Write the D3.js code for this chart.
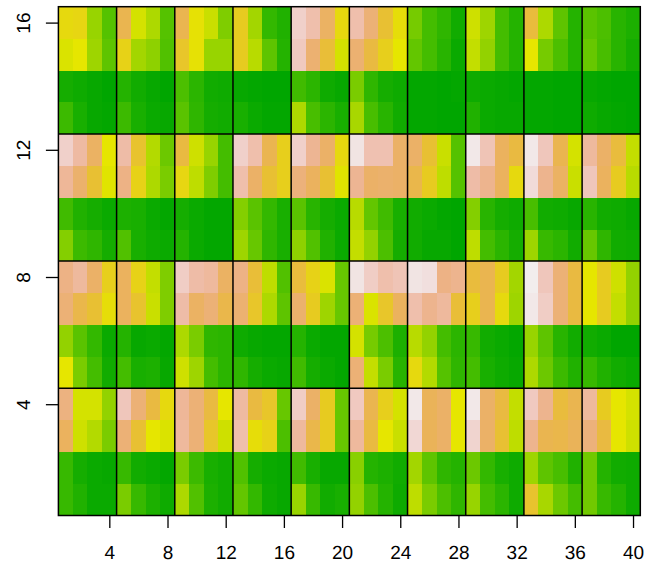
<!DOCTYPE html>
<html>
<head>
<meta charset="utf-8">
<style>
  body { margin: 0; background: #fff; }
  text { font-family: "Liberation Sans", Arial, sans-serif; text-rendering: geometricPrecision; }
</style>
<script src="https://cdn.jsdelivr.net/npm/d3@7"></script>
</head>
<body>
<script>
// palette position (0-100) of each cell, column 1 to 40
const row16 = [53,54,36,22, 67,47,40,22, 67,51,45,31, 57,38,14,9, 92,86,71,53, 86,75,61,52, 29,18,13,5, 46,37,18,10, 63,40,24,10, 23,20,11,8];
const row15 = [48,50,37,24, 55,38,34,21, 59,51,36,36, 57,42,24,10, 90,74,62,47, 74,64,56,50, 25,18,11,3, 44,35,18,10, 50,29,20,10, 26,19,11,6];
const row14 = [6,4,2,0, 10,5,2,0, 20,12,5,4, 2,1,0,0, 17,12,4,2, 30,13,6,4, 1,1,0,1, 4,3,2,1, 1,1,0,0, 2,1,0,0];
const row13 = [16,7,2,1, 16,7,3,2, 23,13,6,5, 7,3,1,1, 40,19,12,7, 39,19,11,5, 1,1,0,0, 9,3,2,2, 1,1,0,0, 4,2,1,0];
const row12 = [92,84,71,50, 85,60,41,27, 64,46,36,18, 92,86,67,56, 92,81,72,53, 97,87,87,72, 72,61,45,22, 98,88,70,64, 98,89,67,47, 83,72,63,44];
const row11 = [82,73,61,49, 78,55,40,30, 54,43,31,18, 86,72,61,56, 76,70,61,49, 81,72,73,72, 66,57,43,22, 85,80,70,53, 95,80,71,45, 89,70,57,42];
const row10 = [17,9,6,3, 8,7,3,1, 6,3,1,1, 32,23,14,7, 23,11,6,3, 42,25,17,7, 5,3,1,0, 32,11,6,4, 19,5,4,2, 11,5,4,2];
const row9 = [32,16,13,6, 21,7,4,3, 10,3,1,1, 37,26,13,7, 34,21,9,3, 44,35,20,6, 5,2,2,0, 43,18,12,6, 37,15,12,5, 26,13,5,4];
const row8 = [78,83,72,56, 70,55,44,31, 91,85,83,71, 78,62,43,21, 63,55,48,26, 97,91,86,88, 97,96,78,80, 63,67,57,38, 99,89,75,64, 50,57,46,35];
const row7 = [75,66,61,52, 70,60,45,31, 85,71,75,66, 74,59,40,24, 73,57,37,26, 75,48,59,70, 86,80,83,62, 56,67,53,37, 98,91,75,64, 50,57,44,35];
const row6 = [35,23,14,3, 10,2,3,1, 40,30,13,12, 4,2,1,1, 10,3,1,1, 47,29,20,8, 42,35,18,12, 15,5,3,1, 36,24,11,5, 5,3,0,0];
const row5 = [50,30,18,5, 18,7,8,2, 46,37,18,12, 13,6,3,2, 17,6,3,1, 75,44,30,11, 53,41,22,13, 18,7,4,2, 40,27,16,9, 15,9,5,3];
const row4 = [77,47,47,35, 89,75,64,53, 82,75,64,50, 84,64,59,26, 91,72,57,26, 90,67,56,47, 98,69,72,50, 98,72,64,44, 90,80,63,67, 83,57,50,47];
const row3 = [70,46,41,30, 75,61,50,48, 83,75,59,46, 86,52,55,20, 83,66,57,26, 83,64,50,45, 94,69,72,50, 93,72,61,43, 80,67,66,69, 76,64,50,46];
const row2 = [15,6,3,2, 15,5,3,1, 30,16,7,5, 21,6,3,2, 17,7,2,2, 33,10,8,5, 38,24,13,10, 27,14,7,4, 37,24,19,9, 28,10,5,4];
const row1 = [15,9,3,3, 30,15,8,4, 40,21,8,5, 25,14,4,2, 36,15,5,7, 35,20,10,4, 43,30,20,13, 36,18,12,4, 60,39,27,18, 28,15,10,4];

const rows = [row1,row2,row3,row4,row5,row6,row7,row8,row9,row10,row11,row12,row13,row14,row15,row16];
const xTicks = [4,8,12,16,20,24,28,32,36,40];
const yTicks = [4,8,12,16];

const w = 647, h = 567;
const margin = {top: 6.7, right: 640.3, bottom: 515.5, left: 58.4};
const lineWidth = 1.5;

var x = d3.scaleLinear().domain([0.5, 40.5]).range([margin.left, margin.right]);
var y = d3.scaleLinear().domain([0.5, 16.5]).range([margin.bottom, margin.top]);

// terrain palette: green -> yellow -> near white, interpolated in HSV
var hue = d3.scaleLinear().domain([0, 50, 100]).range([120, 60, 0]);
var sat = d3.scaleLinear().domain([0, 50, 100]).range([1, 1, 0]);
var val = d3.scaleLinear().domain([0, 50, 100]).range([0.65, 0.9, 0.95]);

function terrain(t) {
  var H = hue(t) / 60, S = sat(t), V = val(t);
  var i = Math.floor(H), f = H - i;
  var p = V * (1 - S), q = V * (1 - S * f), u = V * (1 - S * (1 - f));
  var c = [[V,u,p],[q,V,p],[p,V,u]][Math.min(i, 2)];
  return d3.rgb(c[0] * 255, c[1] * 255, c[2] * 255).formatHex();
}

var svg = d3.select("body").append("svg")
  .attr("width", w)
  .attr("height", h)
  .style("display", "block");

// cells
rows.forEach(function (row, r) {
  svg.append("g").selectAll("rect")
    .data(row)
    .enter().append("rect")
    .attr("x", function (d, i) { return x(i + 0.5); })
    .attr("y", y(r + 1.5))
    .attr("width", x(1.5) - x(0.5) + 0.3)
    .attr("height", y(0.5) - y(1.5) + 0.3)
    .attr("shape-rendering", "crispEdges")
    .attr("fill", function (d) { return terrain(d); });
});

// block grid lines
svg.append("g").selectAll("line")
  .data(xTicks.slice(0, -1))
  .enter().append("line")
  .attr("x1", function (d) { return x(d + 0.5); })
  .attr("x2", function (d) { return x(d + 0.5); })
  .attr("y1", margin.top).attr("y2", margin.bottom)
  .attr("stroke", "#000")
  .attr("stroke-width", lineWidth);

svg.append("g").selectAll("line")
  .data(yTicks.slice(0, -1))
  .enter().append("line")
  .attr("x1", margin.left).attr("x2", margin.right)
  .attr("y1", function (d) { return y(d + 0.5); })
  .attr("y2", function (d) { return y(d + 0.5); })
  .attr("stroke", "#000")
  .attr("stroke-width", lineWidth);

// box
svg.append("rect")
  .attr("x", margin.left).attr("y", margin.top)
  .attr("width", margin.right - margin.left).attr("height", margin.bottom - margin.top)
  .attr("fill", "none").attr("stroke", "#000")
  .attr("stroke-width", lineWidth);

// axes
var xAxis = svg.append("g")
  .attr("transform", "translate(0," + margin.bottom + ")")
  .call(d3.axisBottom(x).tickValues(xTicks).tickSize(12.5).tickSizeOuter(0));
xAxis.select(".domain").remove();
xAxis.selectAll(".tick line").attr("stroke-width", lineWidth - 0.2);
xAxis.selectAll("text")
  .attr("font-size", "19px")
  .attr("fill", "#000")
  .style("font-family", "Liberation Sans")
  .attr("y", 43.5)
  .attr("dy", 0);

var yAxis = svg.append("g")
  .attr("transform", "translate(" + margin.left + ",0)")
  .call(d3.axisLeft(y).tickValues(yTicks).tickSize(12.5).tickFormat(d3.format("d")).tickSizeOuter(0));
yAxis.select(".domain").remove();
yAxis.selectAll(".tick line").attr("stroke-width", lineWidth - 0.2);
yAxis.selectAll(".tick text")
  .attr("font-size", "19px")
  .attr("fill", "#000")
  .style("font-family", "Liberation Sans")
  .attr("text-anchor", "middle")
  .attr("dy", 0)
  .attr("x", 0)
  .attr("y", 0)
  .attr("transform", "translate(-28.5,0) rotate(-90)");
</script>
</body>
</html>
